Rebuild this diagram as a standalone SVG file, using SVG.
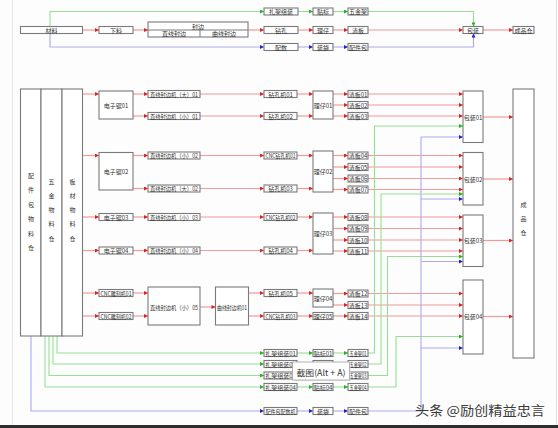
<svg xmlns="http://www.w3.org/2000/svg" width="558" height="428" viewBox="0 0 558 428">
<defs>
<style>
.b{fill:#fff;stroke:#7a7a7a;stroke-width:1.1}
.t{font-family:"Noto Sans CJK SC","Liberation Sans",sans-serif;font-size:6px;fill:#333;text-anchor:middle;dominant-baseline:central}
.r{stroke:#f29a9a;fill:none;stroke-width:1.2;marker-end:url(#ar)}
.g{stroke:#95e095;fill:none;stroke-width:1.1;marker-end:url(#ag)}
.u{stroke:#ababef;fill:none;stroke-width:1.1;marker-end:url(#ab)}
</style>
<marker id="ar" viewBox="0 0 6 6" refX="6" refY="3" markerWidth="5" markerHeight="4" markerUnits="userSpaceOnUse" orient="auto"><path d="M0,0 L6,3 L0,6 z" fill="#e02020"/></marker>
<marker id="ag" viewBox="0 0 6 6" refX="6" refY="3" markerWidth="5" markerHeight="4" markerUnits="userSpaceOnUse" orient="auto"><path d="M0,0 L6,3 L0,6 z" fill="#1fb51f"/></marker>
<marker id="ab" viewBox="0 0 6 6" refX="6" refY="3" markerWidth="5" markerHeight="4" markerUnits="userSpaceOnUse" orient="auto"><path d="M0,0 L6,3 L0,6 z" fill="#2020cc"/></marker>
</defs>
<rect x="0" y="0" width="558" height="428" fill="#fdfdfd"/>
<line x1="12.5" y1="0" x2="12.5" y2="425" stroke="#e8e8e8"/>
<line x1="556.5" y1="0" x2="556.5" y2="425" stroke="#dedede"/>

<g id="connectors">
<path class="r" d="M82.5,30 H99"/>
<path class="r" d="M133,30 H148"/>
<path class="r" d="M248,30 H264"/>
<path class="r" d="M298,30 H313"/>
<path class="r" d="M333,30 H348"/>
<path class="r" d="M368,30 H463"/>
<path class="r" d="M483,30 H513"/>
<path class="g" d="M50,26.5 V11.5 H264"/>
<path class="g" d="M298,11.5 H313"/>
<path class="g" d="M333,11.5 H348"/>
<path class="g" d="M368,11.5 H473.5 V26.5"/>
<path class="u" d="M50,33.5 V47 H264"/>
<path class="u" d="M298,47 H313"/>
<path class="u" d="M333,47 H348"/>
<path class="u" d="M368,47 H473.5 V33.5"/>
<path class="r" d="M82.5,94 H99"/>
<path class="r" d="M82.5,155.5 H99"/>
<path class="r" d="M82.5,217 H99"/>
<path class="r" d="M82.5,250.5 H99"/>
<path class="r" d="M82.5,293 H99"/>
<path class="r" d="M82.5,316 H99"/>
<path class="r" d="M133,94 H148"/>
<path class="r" d="M133,116 H148"/>
<path class="r" d="M133,155.5 H148"/>
<path class="r" d="M133,188.5 H148"/>
<path class="r" d="M133,217 H148"/>
<path class="r" d="M133,250.5 H148"/>
<path class="r" d="M133,293 H148"/>
<path class="r" d="M133,316 H148"/>
<path class="r" d="M200,307 H215.5"/>
<path class="r" d="M200,94 H264"/>
<path class="r" d="M200,116 H264"/>
<path class="r" d="M200,155.5 H264"/>
<path class="r" d="M200,188.5 H264"/>
<path class="r" d="M200,217 H264"/>
<path class="r" d="M200,250.5 H264"/>
<path class="r" d="M248.5,293 H264"/>
<path class="r" d="M248.5,316 H264"/>
<path class="r" d="M297,94 H313"/>
<path class="r" d="M297,116 H313"/>
<path class="r" d="M297,155.5 H313"/>
<path class="r" d="M297,188.5 H313"/>
<path class="r" d="M297,217 H313"/>
<path class="r" d="M297,250.5 H313"/>
<path class="r" d="M297,293 H313"/>
<path class="r" d="M297,316 H313"/>
<path class="r" d="M333,94 H348"/>
<path class="r" d="M333,105 H348"/>
<path class="r" d="M333,116 H348"/>
<path class="r" d="M333,155.5 H348"/>
<path class="r" d="M333,167 H348"/>
<path class="r" d="M333,178.5 H348"/>
<path class="r" d="M333,189.5 H348"/>
<path class="r" d="M333,217 H348"/>
<path class="r" d="M333,228.5 H348"/>
<path class="r" d="M333,240 H348"/>
<path class="r" d="M333,251 H348"/>
<path class="r" d="M333,293.5 H348"/>
<path class="r" d="M333,305 H348"/>
<path class="r" d="M333,316 H348"/>
<path class="r" d="M368,94 H463"/>
<path class="r" d="M368,105 H463"/>
<path class="r" d="M368,116 H463"/>
<path class="r" d="M368,155.5 H463"/>
<path class="r" d="M368,167 H463"/>
<path class="r" d="M368,178.5 H463"/>
<path class="r" d="M368,189.5 H463"/>
<path class="r" d="M368,217 H463"/>
<path class="r" d="M368,228.5 H463"/>
<path class="r" d="M368,240 H463"/>
<path class="r" d="M368,251 H463"/>
<path class="r" d="M368,293.5 H463"/>
<path class="r" d="M368,305 H463"/>
<path class="r" d="M368,316 H463"/>
<path class="r" d="M483,117 H513"/>
<path class="r" d="M483,179 H513"/>
<path class="r" d="M483,240.5 H513"/>
<path class="r" d="M483,316.5 H513"/>
<path class="g" d="M57,336 V353 H264"/>
<path class="g" d="M53,336 V364 H264"/>
<path class="g" d="M49,336 V375.5 H264"/>
<path class="g" d="M45,336 V387 H264"/>
<path class="g" d="M297,353 H313"/>
<path class="g" d="M297,364 H313"/>
<path class="g" d="M297,375.5 H313"/>
<path class="g" d="M297,387 H313"/>
<path class="g" d="M333,353 H348"/>
<path class="g" d="M333,364 H348"/>
<path class="g" d="M333,375.5 H348"/>
<path class="g" d="M333,387 H348"/>
<path class="g" d="M368,353 H374.5 V126 H463"/>
<path class="g" d="M368,364 H381 V194 H463"/>
<path class="g" d="M368,375.5 H387.5 V256.5 H463"/>
<path class="g" d="M368,387 H396 V336.5 H463"/>
<path class="u" d="M31,336 V411 H264"/>
<path class="u" d="M297,411 H313"/>
<path class="u" d="M333,411 H348"/>
<path class="u" d="M368,411 H421 V137 H463"/>
<path class="u" d="M421,199 H463"/>
<path class="u" d="M421,261.5 H463"/>
<path class="u" d="M421,348 H463"/>
</g>

<g id="top-cailiao"><rect class="b" x="20.5" y="26.5" width="62" height="7"/><text class="t" x="51.5" y="30">材料</text></g>
<g id="top-xialiao"><rect class="b" x="99" y="26.5" width="34" height="7"/><text class="t" x="116" y="30">下料</text></g>
<g id="top-fengbian"><rect class="b" x="148" y="22" width="100" height="15"/><line x1="148" y1="30" x2="248" y2="30" stroke="#7a7a7a"/><line x1="200" y1="30" x2="200" y2="37" stroke="#7a7a7a"/><text class="t" x="198" y="26">封边</text><text class="t" x="174" y="33.5">直线封边</text><text class="t" x="224" y="33.5">曲线封边</text></g>
<g id="top-zhajia"><rect class="b" x="264" y="8" width="34" height="7"/><text class="t" x="281" y="11.5">扎架组装</text></g>
<g id="top-tiebiao"><rect class="b" x="313" y="8" width="20" height="7"/><text class="t" x="323" y="11.5">贴标</text></g>
<g id="top-wujinjia"><rect class="b" x="348" y="8" width="20" height="7"/><text class="t" x="358" y="11.5">五金架</text></g>
<g id="top-zuankong"><rect class="b" x="264" y="26.5" width="34" height="7"/><text class="t" x="281" y="30">钻孔</text></g>
<g id="top-lizai"><rect class="b" x="313" y="26.5" width="20" height="7"/><text class="t" x="323" y="30">理仔</text></g>
<g id="top-qingban"><rect class="b" x="348" y="26.5" width="20" height="7"/><text class="t" x="358" y="30">清板</text></g>
<g id="top-peishu"><rect class="b" x="264" y="43.5" width="34" height="7"/><text class="t" x="281" y="47">配数</text></g>
<g id="top-zhuangdai"><rect class="b" x="313" y="43.5" width="20" height="7"/><text class="t" x="323" y="47">装袋</text></g>
<g id="top-peijianbao"><rect class="b" x="348" y="43.5" width="20" height="7"/><text class="t" x="358" y="47">配件包</text></g>
<g id="top-baozhuang"><rect class="b" x="463" y="26.5" width="20" height="7"/><text class="t" x="473" y="30">包装</text></g>
<g id="top-chengpin"><rect class="b" x="513" y="26.5" width="21" height="7"/><text class="t" x="523.5" y="30">成品仓</text></g>

<g id="store-peijian"><rect class="b" x="20.5" y="89" width="20.5" height="247"/>
<text class="t" x="31" y="175">配</text><text class="t" x="31" y="189.5">件</text><text class="t" x="31" y="204">包</text><text class="t" x="31" y="218.5">物</text><text class="t" x="31" y="233">料</text><text class="t" x="31" y="247.5">仓</text></g>
<g id="store-wujin"><rect class="b" x="41" y="89" width="21" height="247"/>
<text class="t" x="51.5" y="181">五</text><text class="t" x="51.5" y="195">金</text><text class="t" x="51.5" y="209">物</text><text class="t" x="51.5" y="223.5">料</text><text class="t" x="51.5" y="238">仓</text></g>
<g id="store-bancai"><rect class="b" x="62" y="89" width="20.5" height="247"/>
<text class="t" x="72.5" y="181">板</text><text class="t" x="72.5" y="195">材</text><text class="t" x="72.5" y="209">物</text><text class="t" x="72.5" y="223.5">料</text><text class="t" x="72.5" y="238">仓</text></g>

<g id="dzj01"><rect class="b" x="99" y="91" width="34" height="28"/><text class="t" x="116" y="105">电子锯01</text></g>
<g id="dzj02"><rect class="b" x="99" y="152.5" width="34" height="37.5"/><text class="t" x="116" y="171">电子锯02</text></g>
<g id="dzj03"><rect class="b" x="99" y="213.5" width="34" height="7"/><text class="t" x="116" y="217">电子锯03</text></g>
<g id="dzj04"><rect class="b" x="99" y="247" width="34" height="7"/><text class="t" x="116" y="250.5">电子锯04</text></g>
<g id="cncdk01"><rect class="b" x="99" y="289.5" width="34" height="7"/><text class="t" x="116" y="293" textLength="31" lengthAdjust="spacingAndGlyphs">CNC雕刻机01</text></g>
<g id="cncdk02"><rect class="b" x="99" y="312.5" width="34" height="7"/><text class="t" x="116" y="316" textLength="31" lengthAdjust="spacingAndGlyphs">CNC雕刻机02</text></g>

<g id="zxd01"><rect class="b" x="148" y="90.5" width="52" height="7"/><text class="t" x="174" y="94" textLength="48" lengthAdjust="spacingAndGlyphs">直线封边机（大）01</text></g>
<g id="zxx01"><rect class="b" x="148" y="112.5" width="52" height="7"/><text class="t" x="174" y="116" textLength="48" lengthAdjust="spacingAndGlyphs">直线封边机（小）01</text></g>
<g id="zxx02"><rect class="b" x="148" y="152" width="52" height="7"/><text class="t" x="174" y="155.5" textLength="48" lengthAdjust="spacingAndGlyphs">直线封边机（小）02</text></g>
<g id="zxd02"><rect class="b" x="148" y="185" width="52" height="7"/><text class="t" x="174" y="188.5" textLength="48" lengthAdjust="spacingAndGlyphs">直线封边机（大）02</text></g>
<g id="zxx03"><rect class="b" x="148" y="213.5" width="52" height="7"/><text class="t" x="174" y="217" textLength="48" lengthAdjust="spacingAndGlyphs">直线封边机（小）03</text></g>
<g id="zxx04"><rect class="b" x="148" y="247" width="52" height="7"/><text class="t" x="174" y="250.5" textLength="48" lengthAdjust="spacingAndGlyphs">直线封边机（小）04</text></g>
<g id="zxx05"><rect class="b" x="148" y="287" width="52" height="38"/><text class="t" x="174" y="307" textLength="48" lengthAdjust="spacingAndGlyphs">直线封边机（小）05</text></g>
<g id="qx01"><rect class="b" x="215.5" y="287" width="33" height="38"/><text class="t" x="232" y="307" textLength="30" lengthAdjust="spacingAndGlyphs">曲线封边机01</text></g>

<g id="zk01"><rect class="b" x="264" y="90.5" width="33" height="7"/><text class="t" x="280.5" y="94">钻孔机01</text></g>
<g id="zk02"><rect class="b" x="264" y="112.5" width="33" height="7"/><text class="t" x="280.5" y="116">钻孔机02</text></g>
<g id="cnczk01"><rect class="b" x="264" y="152" width="33" height="7"/><text class="t" x="280.5" y="155.5" textLength="30" lengthAdjust="spacingAndGlyphs">CNC钻孔机01</text></g>
<g id="zk03"><rect class="b" x="264" y="185" width="33" height="7"/><text class="t" x="280.5" y="188.5">钻孔机03</text></g>
<g id="cnczk02"><rect class="b" x="264" y="213.5" width="33" height="7"/><text class="t" x="280.5" y="217" textLength="30" lengthAdjust="spacingAndGlyphs">CNC钻孔机02</text></g>
<g id="zk04"><rect class="b" x="264" y="247" width="33" height="7"/><text class="t" x="280.5" y="250.5">钻孔机04</text></g>
<g id="zk05"><rect class="b" x="264" y="289.5" width="33" height="7"/><text class="t" x="280.5" y="293">钻孔机05</text></g>
<g id="cnczk03"><rect class="b" x="264" y="312.5" width="33" height="7"/><text class="t" x="280.5" y="316" textLength="30" lengthAdjust="spacingAndGlyphs">CNC钻孔机03</text></g>

<g id="lz01"><rect class="b" x="313" y="91" width="20" height="28"/><text class="t" x="323" y="105">理仔01</text></g>
<g id="lz02"><rect class="b" x="313" y="151" width="20" height="41"/><text class="t" x="323" y="171.5">理仔02</text></g>
<g id="lz03"><rect class="b" x="313" y="213" width="20" height="41"/><text class="t" x="323" y="233.5">理仔03</text></g>
<g id="lz04"><rect class="b" x="313" y="289" width="20" height="18"/><text class="t" x="323" y="298">理仔04</text></g>
<g id="lz05"><rect class="b" x="313" y="312.5" width="20" height="7"/><text class="t" x="323" y="316">理仔05</text></g>

<g id="qb01"><rect class="b" x="348" y="90.5" width="20" height="7"/><text class="t" x="358" y="94">清板01</text></g>
<g id="qb02"><rect class="b" x="348" y="101.5" width="20" height="7"/><text class="t" x="358" y="105">清板02</text></g>
<g id="qb03"><rect class="b" x="348" y="112.5" width="20" height="7"/><text class="t" x="358" y="116">清板03</text></g>
<g id="qb04"><rect class="b" x="348" y="152" width="20" height="7"/><text class="t" x="358" y="155.5">清板04</text></g>
<g id="qb05"><rect class="b" x="348" y="163.5" width="20" height="7"/><text class="t" x="358" y="167">清板05</text></g>
<g id="qb06"><rect class="b" x="348" y="175" width="20" height="7"/><text class="t" x="358" y="178.5">清板06</text></g>
<g id="qb07"><rect class="b" x="348" y="186" width="20" height="7"/><text class="t" x="358" y="189.5">清板07</text></g>
<g id="qb08"><rect class="b" x="348" y="213.5" width="20" height="7"/><text class="t" x="358" y="217">清板08</text></g>
<g id="qb09"><rect class="b" x="348" y="225" width="20" height="7"/><text class="t" x="358" y="228.5">清板09</text></g>
<g id="qb10"><rect class="b" x="348" y="236.5" width="20" height="7"/><text class="t" x="358" y="240">清板10</text></g>
<g id="qb11"><rect class="b" x="348" y="247.5" width="20" height="7"/><text class="t" x="358" y="251">清板11</text></g>
<g id="qb12"><rect class="b" x="348" y="290" width="20" height="7"/><text class="t" x="358" y="293.5">清板12</text></g>
<g id="qb13"><rect class="b" x="348" y="301.5" width="20" height="7"/><text class="t" x="358" y="305">清板13</text></g>
<g id="qb14"><rect class="b" x="348" y="312.5" width="20" height="7"/><text class="t" x="358" y="316">清板14</text></g>

<g id="bz01"><rect class="b" x="463" y="91" width="20" height="51.5"/><text class="t" x="473" y="117">包装01</text></g>
<g id="bz02"><rect class="b" x="463" y="152.5" width="20" height="52.5"/><text class="t" x="473" y="179">包装02</text></g>
<g id="bz03"><rect class="b" x="463" y="215" width="20" height="51.5"/><text class="t" x="473" y="240.5">包装03</text></g>
<g id="bz04"><rect class="b" x="463" y="280" width="20" height="74"/><text class="t" x="473" y="316.5">包装04</text></g>

<g id="chengpincang"><rect class="b" x="513" y="89" width="21" height="269"/>
<text class="t" x="523.5" y="204">成</text><text class="t" x="523.5" y="218">品</text><text class="t" x="523.5" y="232.5">仓</text></g>

<g id="zj01"><rect class="b" x="264" y="349.5" width="33" height="7"/><text class="t" x="280.5" y="353">扎架组装01</text></g>
<g id="zj02"><rect class="b" x="264" y="360.5" width="33" height="7"/><text class="t" x="280.5" y="364">扎架组装02</text></g>
<g id="zj03"><rect class="b" x="264" y="372" width="33" height="7"/><text class="t" x="280.5" y="375.5">扎架组装03</text></g>
<g id="zj04"><rect class="b" x="264" y="383.5" width="33" height="7"/><text class="t" x="280.5" y="387">扎架组装04</text></g>
<g id="tb01"><rect class="b" x="313" y="349.5" width="20" height="7"/><text class="t" x="323" y="353">贴标01</text></g>
<g id="tb02"><rect class="b" x="313" y="360.5" width="20" height="7"/></g>
<g id="tb03"><rect class="b" x="313" y="372" width="20" height="7"/></g>
<g id="tb04"><rect class="b" x="313" y="383.5" width="20" height="7"/><text class="t" x="323" y="387">贴标04</text></g>
<g id="wj01"><rect class="b" x="348" y="349.5" width="20" height="7"/><text class="t" x="358" y="353" textLength="17" lengthAdjust="spacingAndGlyphs">五金架01</text></g>
<g id="wj02"><rect class="b" x="348" y="360.5" width="20" height="7"/><text class="t" x="358" y="364" textLength="17" lengthAdjust="spacingAndGlyphs">五金架02</text></g>
<g id="wj03"><rect class="b" x="348" y="372" width="20" height="7"/><text class="t" x="358" y="375.5" textLength="17" lengthAdjust="spacingAndGlyphs">五金架03</text></g>
<g id="wj04"><rect class="b" x="348" y="383.5" width="20" height="7"/><text class="t" x="358" y="387" textLength="17" lengthAdjust="spacingAndGlyphs">五金架04</text></g>
<g id="pjpsj"><rect class="b" x="264" y="407.5" width="33" height="7"/><text class="t" x="280.5" y="411" textLength="30" lengthAdjust="spacingAndGlyphs">配件包配数机</text></g>
<g id="zhuangdai"><rect class="b" x="313" y="407.5" width="20" height="7"/><text class="t" x="323" y="411">装袋</text></g>
<g id="peijianbao"><rect class="b" x="348" y="407.5" width="20" height="7"/><text class="t" x="358" y="411">配件包</text></g>

<g id="tooltip"><rect x="293.5" y="363" width="57" height="18" fill="#e6e6e6"/><rect x="292.5" y="362" width="57" height="18" fill="#fff" stroke="#a0a0a0" stroke-width="0.8"/>
<text x="321" y="371.5" font-family="'Noto Sans CJK SC','Liberation Sans',sans-serif" font-size="8.5" fill="#333" text-anchor="middle" dominant-baseline="central" textLength="49" lengthAdjust="spacingAndGlyphs">截图(Alt + A)</text></g>
<text id="watermark" x="415" y="409" font-family="'Noto Sans CJK SC',sans-serif" font-size="13" fill="#3a3a3a" dominant-baseline="central" textLength="130" lengthAdjust="spacingAndGlyphs">头条 @励创精益忠言</text>
<rect x="0" y="425" width="558" height="3" fill="#2e2e2e"/>
</svg>
